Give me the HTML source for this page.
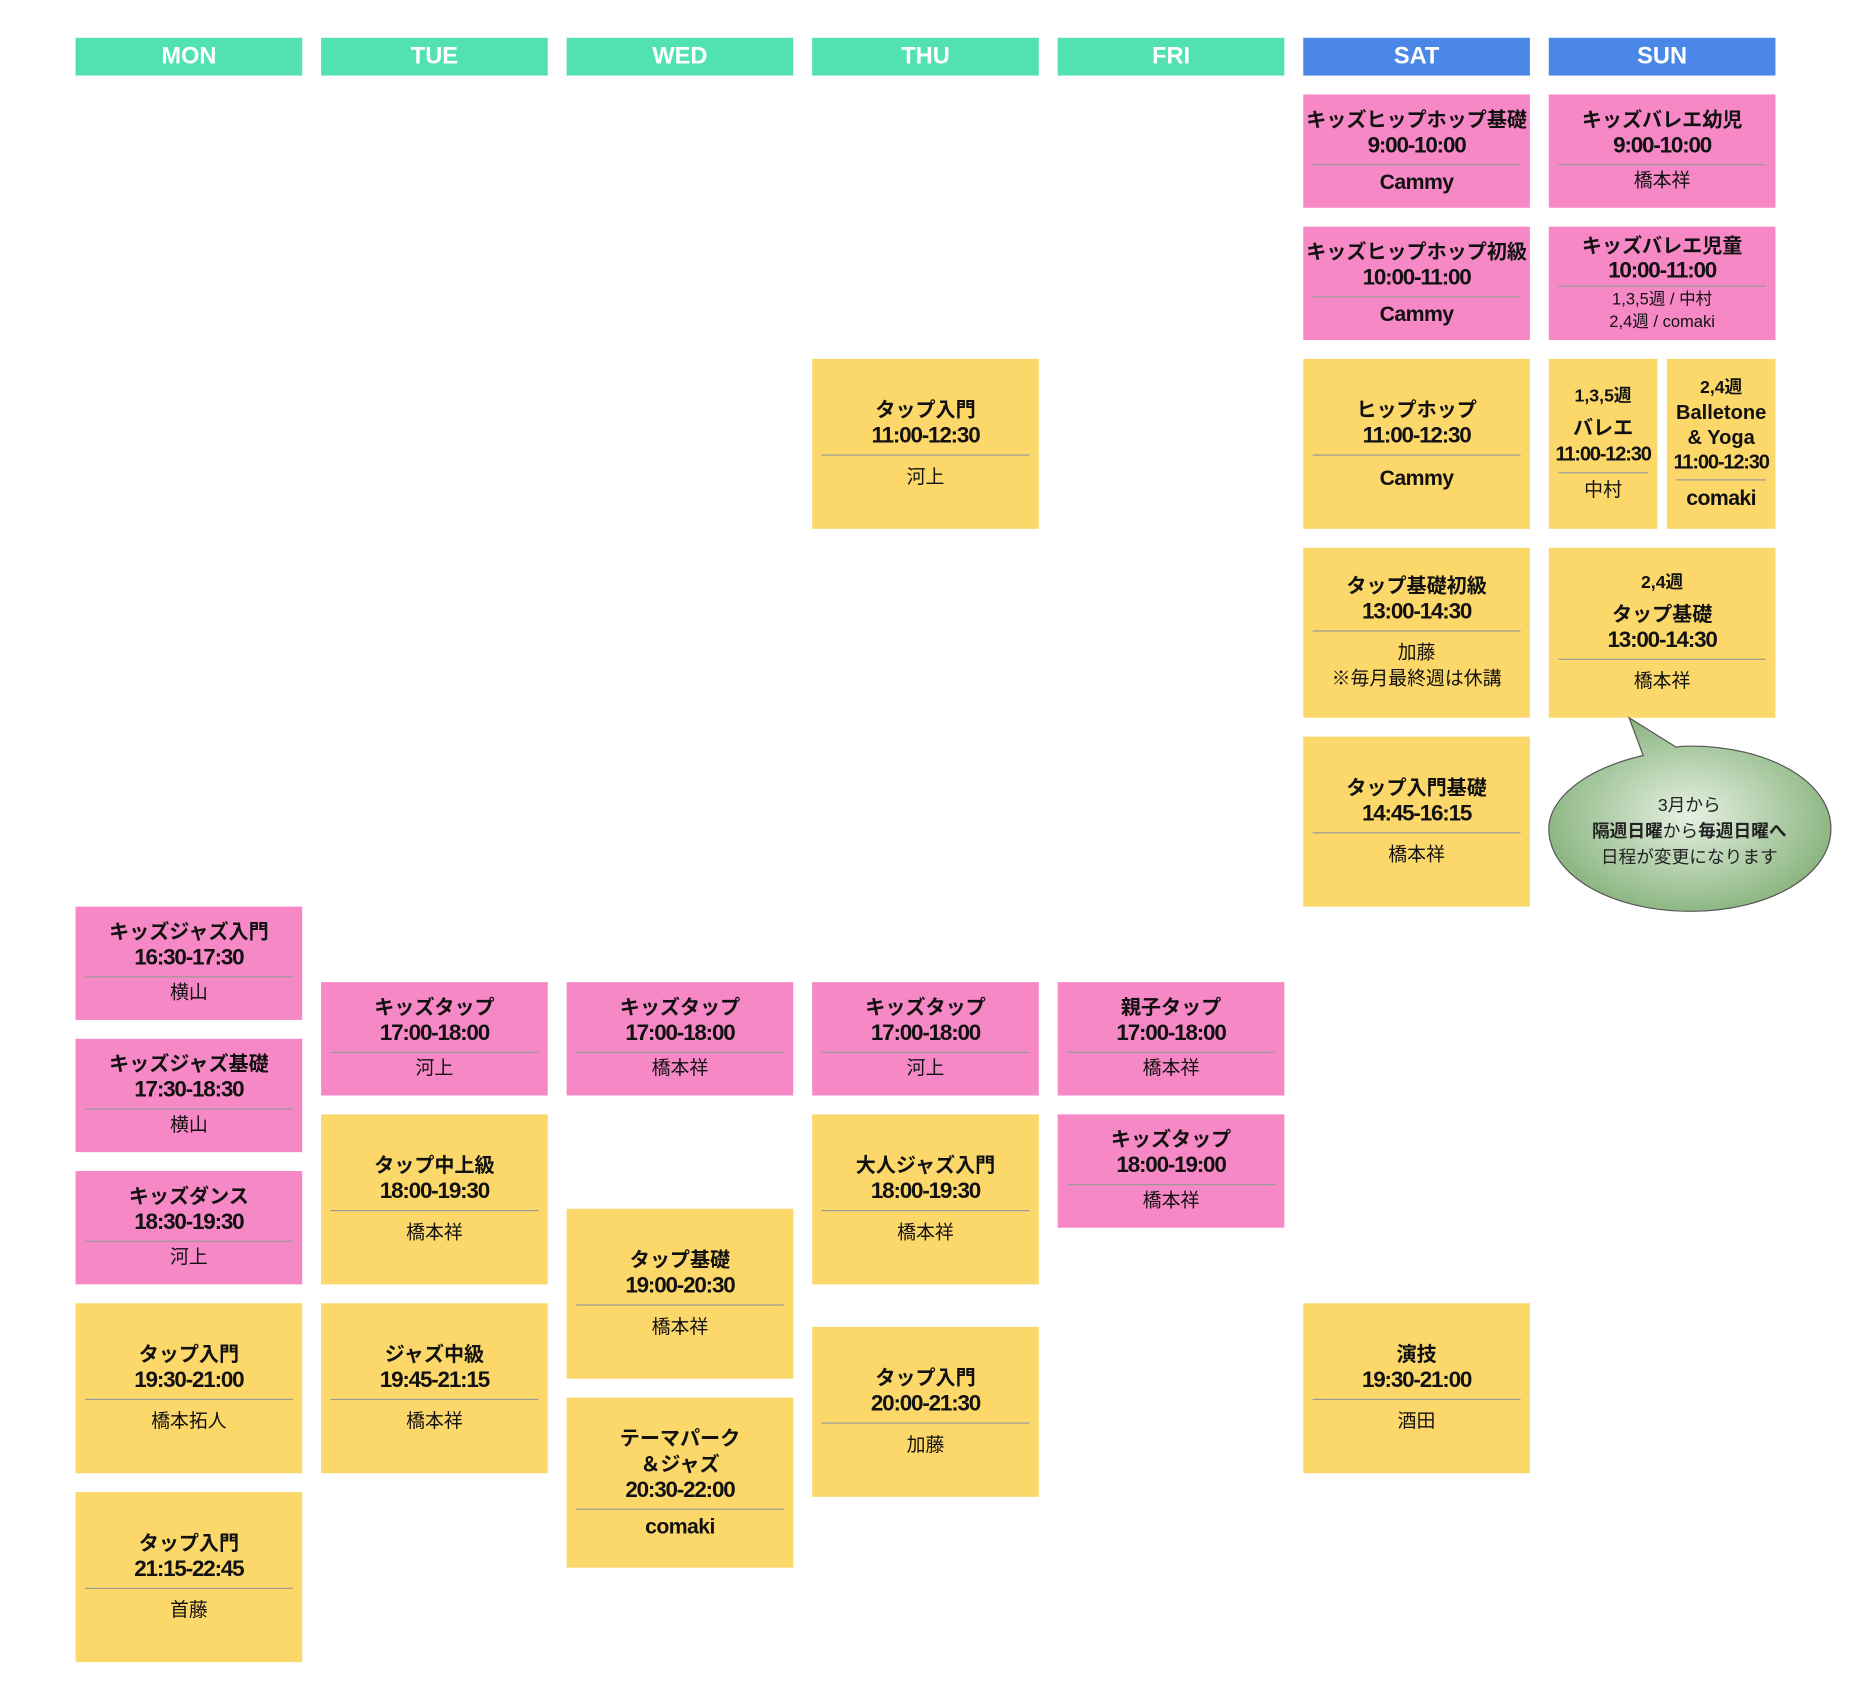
<!DOCTYPE html>
<html><head><meta charset="utf-8"><style>
html,body{margin:0;padding:0;background:#fff;}
body{width:1851px;height:1701px;overflow:hidden;position:relative;}
#s{position:absolute;left:0;top:0;width:1568px;height:1441px;transform:scale(1.18048);transform-origin:0 0;font-family:"Liberation Sans","Noto Sans CJK JP",sans-serif;color:#111;}
.h{position:absolute;top:32px;height:32px;width:192px;color:#fff;font-weight:bold;font-size:20px;line-height:32px;text-align:center;background:#52e1b1;}
.h.b{background:#4b87e6;}
.c{position:absolute;width:192px;display:flex;flex-direction:column;justify-content:center;align-items:center;text-align:center;box-sizing:border-box;}
.p{background:#f788c6;height:96px;}
.y{background:#fcd76a;height:144px;}
.t{font-weight:bold;font-size:17px;line-height:22px;}
.tm{font-family:"Liberation Sans Narrow","Liberation Sans",sans-serif;font-weight:bold;font-size:19px;line-height:22px;letter-spacing:-1px;}
.l{width:calc(100% - 16px);height:1px;background:#999;margin:4px 0 3px;}
.y .l{margin:4px 0 8px;}
.n{font-size:16px;line-height:22px;}
.nn{font-family:"Liberation Sans Narrow","Liberation Sans",sans-serif;font-weight:bold;font-size:18px;line-height:22px;letter-spacing:-0.5px;}
.sm{font-size:14px;line-height:19px;}
.wk{font-family:"Liberation Sans Narrow","Liberation Sans","Noto Sans CJK JP",sans-serif;font-weight:bold;font-size:15px;line-height:20px;margin-bottom:6px;}
</style></head><body><div id="s">
<div class="h" style="left:64px">MON</div>
<div class="h" style="left:272px">TUE</div>
<div class="h" style="left:480px">WED</div>
<div class="h" style="left:688px">THU</div>
<div class="h" style="left:896px">FRI</div>
<div class="h b" style="left:1104px">SAT</div>
<div class="h b" style="left:1312px">SUN</div>

<div class="c p" style="left:1104px;top:80px"><div class="t">キッズヒップホップ基礎</div><div class="tm">9:00-10:00</div><div class="l"></div><div class="nn">Cammy</div></div>
<div class="c p" style="left:1104px;top:192px"><div class="t">キッズヒップホップ初級</div><div class="tm">10:00-11:00</div><div class="l"></div><div class="nn">Cammy</div></div>
<div class="c y" style="left:1104px;top:304px"><div class="t">ヒップホップ</div><div class="tm">11:00-12:30</div><div class="l"></div><div class="nn">Cammy</div></div>
<div class="c y" style="left:1104px;top:464px"><div class="t">タップ基礎初級</div><div class="tm">13:00-14:30</div><div class="l"></div><div class="n">加藤</div><div class="n">※毎月最終週は休講</div></div>
<div class="c y" style="left:1104px;top:624px"><div class="t">タップ入門基礎</div><div class="tm">14:45-16:15</div><div class="l"></div><div class="n">橋本祥</div></div>
<div class="c y" style="left:1104px;top:1104px"><div class="t">演技</div><div class="tm">19:30-21:00</div><div class="l"></div><div class="n">酒田</div></div>

<div class="c p" style="left:1312px;top:80px"><div class="t">キッズバレエ幼児</div><div class="tm">9:00-10:00</div><div class="l"></div><div class="n">橋本祥</div></div>
<div class="c p" style="left:1312px;top:192px"><div class="t" style="line-height:21px">キッズバレエ児童</div><div class="tm" style="line-height:21px">10:00-11:00</div><div class="l" style="margin:2px 0 1px"></div><div class="sm">1,3,5週 / 中村</div><div class="sm">2,4週 / comaki</div></div>
<div class="c y" style="left:1312px;top:304px;width:92px"><div class="wk">1,3,5週</div><div class="t">バレエ</div><div class="tm" style="font-size:17px">11:00-12:30</div><div class="l" style="margin:4px 0 4px"></div><div class="n">中村</div></div>
<div class="c y" style="left:1412px;top:304px;width:92px"><div class="wk" style="margin-bottom:0">2,4週</div><div class="t">Balletone</div><div class="t" style="line-height:20px">&amp; Yoga</div><div class="tm" style="font-size:17px">11:00-12:30</div><div class="l" style="margin:3px 0 4px"></div><div class="nn">comaki</div></div>
<div class="c y" style="left:1312px;top:464px"><div class="wk">2,4週</div><div class="t">タップ基礎</div><div class="tm">13:00-14:30</div><div class="l"></div><div class="n">橋本祥</div></div>

<svg style="position:absolute;left:1300px;top:600px" width="260" height="180" viewBox="1300 600 260 180">
<defs><radialGradient id="g" cx="0.5" cy="0.5" r="0.55"><stop offset="0" stop-color="#e6f1e2"/><stop offset="1" stop-color="#86b27c"/></radialGradient></defs>
<path d="M1380,608 L1392,640 C1340,652 1312,678 1312,702 C1312,742 1366,772 1432,772 C1498,772 1551,742 1551,702 C1551,662 1498,632 1432,632 C1428,632 1424,632 1420,633 Z" fill="url(#g)" stroke="#555" stroke-width="1"/>
<text x="1431" y="687" text-anchor="middle" font-family="Liberation Sans,Noto Sans CJK JP,sans-serif" font-size="15" fill="#222">3月から</text>
<text x="1431" y="709" text-anchor="middle" font-family="Liberation Sans,Noto Sans CJK JP,sans-serif" font-size="15" fill="#222"><tspan font-weight="bold">隔週日曜</tspan>から<tspan font-weight="bold">毎週日曜へ</tspan></text>
<text x="1431" y="731" text-anchor="middle" font-family="Liberation Sans,Noto Sans CJK JP,sans-serif" font-size="15" fill="#222">日程が変更になります</text>
</svg>

<div class="c y" style="left:688px;top:304px"><div class="t">タップ入門</div><div class="tm">11:00-12:30</div><div class="l"></div><div class="n">河上</div></div>

<div class="c p" style="left:64px;top:768px"><div class="t">キッズジャズ入門</div><div class="tm">16:30-17:30</div><div class="l"></div><div class="n">横山</div></div>
<div class="c p" style="left:64px;top:880px"><div class="t">キッズジャズ基礎</div><div class="tm">17:30-18:30</div><div class="l"></div><div class="n">横山</div></div>
<div class="c p" style="left:64px;top:992px"><div class="t">キッズダンス</div><div class="tm">18:30-19:30</div><div class="l"></div><div class="n">河上</div></div>
<div class="c y" style="left:64px;top:1104px"><div class="t">タップ入門</div><div class="tm">19:30-21:00</div><div class="l"></div><div class="n">橋本拓人</div></div>
<div class="c y" style="left:64px;top:1264px"><div class="t">タップ入門</div><div class="tm">21:15-22:45</div><div class="l"></div><div class="n">首藤</div></div>

<div class="c p" style="left:272px;top:832px"><div class="t">キッズタップ</div><div class="tm">17:00-18:00</div><div class="l"></div><div class="n">河上</div></div>
<div class="c y" style="left:272px;top:944px"><div class="t">タップ中上級</div><div class="tm">18:00-19:30</div><div class="l"></div><div class="n">橋本祥</div></div>
<div class="c y" style="left:272px;top:1104px"><div class="t">ジャズ中級</div><div class="tm">19:45-21:15</div><div class="l"></div><div class="n">橋本祥</div></div>

<div class="c p" style="left:480px;top:832px"><div class="t">キッズタップ</div><div class="tm">17:00-18:00</div><div class="l"></div><div class="n">橋本祥</div></div>
<div class="c y" style="left:480px;top:1024px"><div class="t">タップ基礎</div><div class="tm">19:00-20:30</div><div class="l"></div><div class="n">橋本祥</div></div>
<div class="c y" style="left:480px;top:1184px"><div class="t">テーマパーク</div><div class="t">＆ジャズ</div><div class="tm">20:30-22:00</div><div class="l" style="margin:4px 0 3px"></div><div class="nn">comaki</div></div>

<div class="c p" style="left:688px;top:832px"><div class="t">キッズタップ</div><div class="tm">17:00-18:00</div><div class="l"></div><div class="n">河上</div></div>
<div class="c y" style="left:688px;top:944px"><div class="t">大人ジャズ入門</div><div class="tm">18:00-19:30</div><div class="l"></div><div class="n">橋本祥</div></div>
<div class="c y" style="left:688px;top:1124px"><div class="t">タップ入門</div><div class="tm">20:00-21:30</div><div class="l"></div><div class="n">加藤</div></div>

<div class="c p" style="left:896px;top:832px"><div class="t">親子タップ</div><div class="tm">17:00-18:00</div><div class="l"></div><div class="n">橋本祥</div></div>
<div class="c p" style="left:896px;top:944px"><div class="t">キッズタップ</div><div class="tm">18:00-19:00</div><div class="l"></div><div class="n">橋本祥</div></div>
</div></body></html>
